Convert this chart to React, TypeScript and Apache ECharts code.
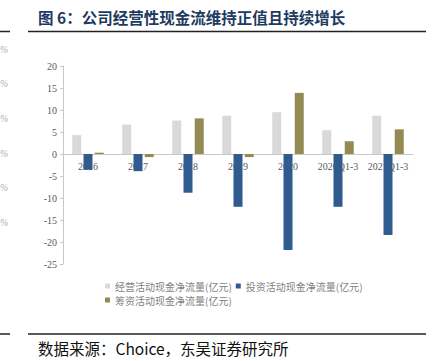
import React, { useEffect, useRef } from "react";
import * as echarts from "echarts";

const categories = ["2016", "2017", "2018", "2019", "2020", "2020Q1-3", "2021Q1-3"];
const operatingCF = [4.3, 6.7, 7.6, 8.7, 9.5, 5.4, 8.7];
const investingCF = [-3.6, -3.9, -8.8, -12.0, -21.8, -12.0, -18.4];
const financingCF = [0.3, -0.7, 8.1, -0.7, 13.9, 2.9, 5.6];
const seriesNames = [
  "经营活动现金净流量(亿元)",
  "投资活动现金净流量(亿元)",
  "筹资活动现金净流量(亿元)",
];
const titleText = "图 6：公司经营性现金流维持正值且持续增长";
const sourceText = "数据来源：Choice，东吴证券研究所";
const percentMarksY = [50, 84, 119, 154, 188, 223];

export default function App() {
  const ref = useRef<HTMLDivElement>(null);
  useEffect(() => {
    if (!ref.current) return;
    const chart = echarts.init(ref.current, null, { renderer: "svg" });
    const serif = "'Liberation Serif', 'Times New Roman', serif";
    const cjk = "'Noto Sans CJK SC', sans-serif";
    const gridTop = 66;
    const gridBottom = 97;
    const yMin = -25;
    const yMax = 20;
    const plotH = 361 - gridTop - gridBottom;
    const zeroOffset = -(plotH * (0 - yMin)) / (yMax - yMin);
    const graphics: any[] = [
      {
        type: "text",
        left: 38,
        top: 9,
        style: { text: titleText, font: `bold 15.5px ${cjk}`, fill: "#1f3a60" },
      },
      { type: "line", shape: { x1: 0, y1: 31.5, x2: 10, y2: 31.5 }, style: { stroke: "#222", lineWidth: 1.5 } },
      { type: "line", shape: { x1: 28, y1: 31.5, x2: 426, y2: 31.5 }, style: { stroke: "#222", lineWidth: 1.5 } },
      { type: "line", shape: { x1: 0, y1: 334, x2: 10, y2: 334 }, style: { stroke: "#222", lineWidth: 1.5 } },
      { type: "line", shape: { x1: 28, y1: 334, x2: 426, y2: 334 }, style: { stroke: "#222", lineWidth: 1.5 } },
      {
        type: "text",
        left: 38,
        top: 340,
        style: { text: sourceText, font: `15.5px ${cjk}`, fill: "#111" },
      },
      ...percentMarksY.map((y) => ({
        type: "text",
        x: 0,
        y: y - 6,
        style: { text: "%", font: `italic 10px ${serif}`, fill: "#b0b0b0" },
      })),
    ];
    chart.setOption({
      animation: false,
      backgroundColor: "#fff",
      grid: { left: 63, right: 28, top: gridTop, bottom: gridBottom, containLabel: false },
      legend: {
        left: 100,
        top: 276,
        width: 270,
        itemWidth: 5,
        itemHeight: 5,
        itemGap: 4,
        icon: "rect",
        textStyle: { fontSize: 10, color: "#7f7f7f", fontFamily: cjk },
        data: seriesNames,
      },
      xAxis: {
        type: "category",
        data: categories,
        position: "bottom",
        offset: zeroOffset,
        axisLine: { onZero: false, lineStyle: { color: "#c8c8c8" } },
        axisTick: { show: false },
        axisLabel: { color: "#595959", fontSize: 10, fontFamily: serif, margin: 7, interval: 0 },
        z: 0,
      },
      yAxis: {
        type: "value",
        min: yMin,
        max: yMax,
        interval: 5,
        axisLine: { show: true, lineStyle: { color: "#c8c8c8" } },
        axisTick: { show: true, length: 3, lineStyle: { color: "#c8c8c8" } },
        splitLine: { show: false },
        axisLabel: { color: "#595959", fontSize: 10, fontFamily: serif, margin: 6 },
      },
      series: [
        { name: seriesNames[0], type: "bar", data: operatingCF, barWidth: 9, barGap: "25%", z: 5, itemStyle: { color: "#d9d9d9" } },
        { name: seriesNames[1], type: "bar", data: investingCF, barWidth: 9, barGap: "25%", z: 5, itemStyle: { color: "#2f5b8e" } },
        { name: seriesNames[2], type: "bar", data: financingCF, barWidth: 9, barGap: "25%", z: 5, itemStyle: { color: "#948a54" } },
      ],
      graphic: graphics,
    });
    return () => chart.dispose();
  }, []);
  return <div ref={ref} style={{ width: 441, height: 361, position: "absolute", left: 0, top: 0 }} />;
}
